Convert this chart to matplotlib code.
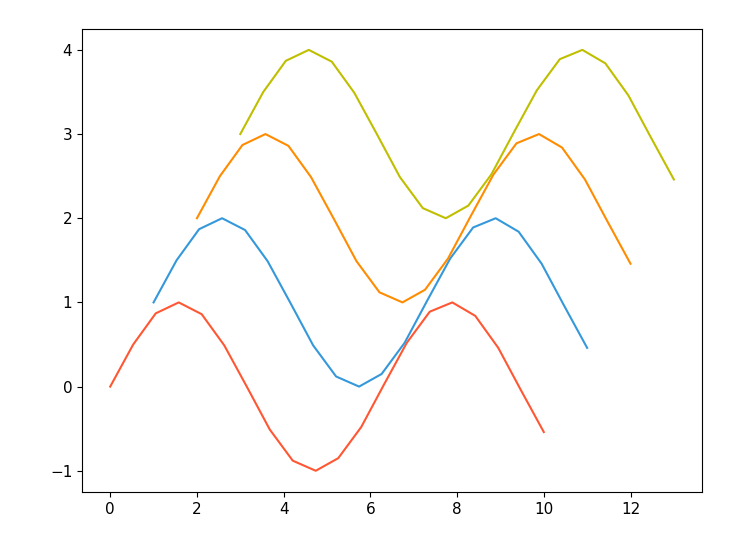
import matplotlib
matplotlib.use('Agg')
import matplotlib.pyplot as plt

# x positions of the first series
x_base = [0.0, 0.53, 1.05, 1.58, 2.11, 2.63, 3.16, 3.68, 4.21, 4.74,
          5.26, 5.79, 6.32, 6.84, 7.37, 7.89, 8.42, 8.95, 9.47, 10.0]

x_red = x_base
y_red = [0.0, 0.50, 0.87, 1.00, 0.86, 0.49, -0.01, -0.51, -0.88, -1.00,
         -0.85, -0.48, 0.03, 0.52, 0.89, 1.00, 0.84, 0.46, -0.04, -0.54]

x_blue = [1.0, 1.53, 2.05, 2.58, 3.11, 3.63, 4.16, 4.68, 5.21, 5.74,
          6.26, 6.79, 7.32, 7.84, 8.37, 8.89, 9.42, 9.95, 10.47, 11.0]
y_blue = [1.0, 1.50, 1.87, 2.00, 1.86, 1.49, 0.99, 0.49, 0.12, 0.00,
          0.15, 0.52, 1.03, 1.52, 1.89, 2.00, 1.84, 1.46, 0.96, 0.46]

x_orange = [2.0, 2.53, 3.05, 3.58, 4.11, 4.63, 5.16, 5.68, 6.21, 6.74,
            7.26, 7.79, 8.32, 8.84, 9.37, 9.89, 10.42, 10.95, 11.47, 12.0]
y_orange = [2.0, 2.50, 2.87, 3.00, 2.86, 2.49, 1.99, 1.49, 1.12, 1.00,
            1.15, 1.52, 2.03, 2.52, 2.89, 3.00, 2.84, 2.46, 1.96, 1.46]

x_olive = [3.0, 3.53, 4.05, 4.58, 5.11, 5.63, 6.16, 6.68, 7.21, 7.74,
           8.26, 8.79, 9.32, 9.84, 10.37, 10.89, 11.42, 11.95, 12.47, 13.0]
y_olive = [3.0, 3.50, 3.87, 4.00, 3.86, 3.49, 2.99, 2.49, 2.12, 2.00,
           2.15, 2.52, 3.03, 3.52, 3.89, 4.00, 3.84, 3.46, 2.96, 2.46]

fig = plt.figure(figsize=(7.39, 5.34), dpi=100)
ax = fig.add_axes([0.111, 0.079, 0.839, 0.867])

ax.plot(x_red, y_red, color='#FF5733', lw=1.5)
ax.plot(x_blue, y_blue, color='#3498DB', lw=1.5)
ax.plot(x_orange, y_orange, color='#FF8C00', lw=1.5)
ax.plot(x_olive, y_olive, color='#BFBF00', lw=1.5)

ax.tick_params(labelsize=11)

plt.savefig('out.png', dpi=100)
